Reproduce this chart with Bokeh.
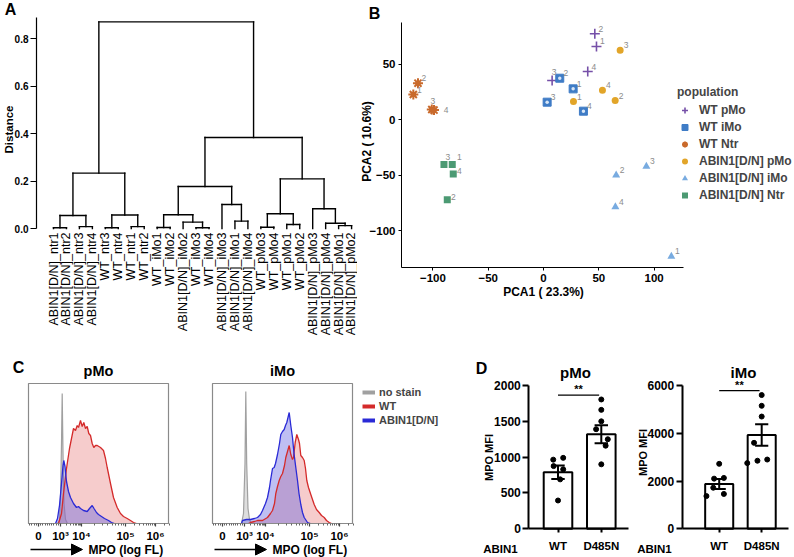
import math
from bokeh.plotting import figure
from bokeh.models import (Range1d, FixedTicker, Legend, LegendItem, Arrow, Grid,
                          NormalHead, LinearAxis, PrintfTickFormatter)
from bokeh.layouts import row, column
from bokeh.embed import file_html
from bokeh.resources import INLINE
from bokeh.core.properties import value

FONT = "Liberation Sans"

# ================= Panel A: hierarchical clustering =================
leaf_labels = ["ABIN1[D/N]_ntr1", "ABIN1[D/N]_ntr2", "ABIN1[D/N]_ntr3", "ABIN1[D/N]_ntr4",
               "WT_ntr3", "WT_ntr4", "WT_ntr1", "WT_ntr2",
               "WT_iMo1", "WT_iMo2", "ABIN1[D/N]_iMo2", "WT_iMo3", "WT_iMo4",
               "ABIN1[D/N]_iMo3", "ABIN1[D/N]_iMo1", "ABIN1[D/N]_iMo4",
               "WT_pMo3", "WT_pMo4", "WT_pMo1", "WT_pMo2",
               "ABIN1[D/N]_pMo3", "ABIN1[D/N]_pMo4", "ABIN1[D/N]_pMo1", "ABIN1[D/N]_pMo2"]
# merge k creates node id 24 + k
merge_left = [0, 2, 24, 4, 6, 27, 26, 8, 11, 10, 31, 14, 13, 34, 16, 18, 38, 22, 21, 20, 40, 37, 30]
merge_right = [1, 3, 25, 5, 7, 28, 29, 9, 12, 32, 33, 15, 35, 36, 17, 19, 39, 23, 41, 42, 43, 44, 45]
merge_height = [0.003, 0.008, 0.055, 0.003, 0.008, 0.057, 0.233, 0.004, 0.003, 0.027, 0.058,
                0.031, 0.101, 0.177, 0.005, 0.017, 0.062, 0.012, 0.022, 0.083, 0.209, 0.383, 0.870]
dist_ticks = [0.0, 0.2, 0.4, 0.6, 0.8]

# ================= Panel B: PCA =================
pca_groups = ["WT pMo", "WT iMo", "WT Ntr", "ABIN1[D/N] pMo", "ABIN1[D/N] iMo", "ABIN1[D/N] Ntr"]
pca_rep = [[2, 1, 4, 3], [2, 1, 3, 4], [2, 1, 3, 4], [3, 4, 2, 1], [3, 2, 4, 1], [3, 1, 4, 2]]
pca_pc1 = [[46.4, 47.9, 40.0, 7.8],
           [14.7, 26.8, 3.3, 36.1],
           [-113.5, -117.7, -101.0, -99.0],
           [69.3, 53.3, 64.8, 27.1],
           [93.0, 65.7, 65.0, 115.6],
           [-90.0, -82.5, -81.6, -87.0]]
pca_pc2 = [[77.2, 65.8, 43.2, 35.1],
           [37.2, 27.6, 15.6, 7.5],
           [32.7, 22.5, 9.0, 8.5],
           [62.4, 26.4, 17.1, 16.2],
           [-42.3, -50.2, -78.7, -123.4],
           [-40.5, -40.5, -49.2, -72.4]]
pca_ticks_x = [-100, -50, 0, 50, 100]
pca_ticks_y = [-100, -50, 0, 50]
pca_xlim = (-128.4, 126.6)
pca_ylim = (-133.3, 87.4)

# ================= Panel C: MPO histograms (display channel, normalised count) =================
hist_xlim = (0, 140)
hist_ylim = (0, 140)
hist_tick_pos = [10, 32, 53, 97, 127]
hist_tick_labels = ["0", "10³", "10⁴", "10⁵", "10⁶"]
pmo_ns_x = [29, 31, 32, 33, 33.7, 34.5, 35.5, 37, 39]
pmo_ns_y = [0, 3, 25, 80, 130, 70, 20, 4, 0]
pmo_wt_x = [30, 33, 35, 38, 41, 44, 45, 47, 48.7, 50, 52, 53.7, 55.3, 57, 58.7, 60.3, 62, 63.7,
            65.3, 67, 68.7, 72, 75, 77, 78.7, 82, 85, 88.7, 92, 95, 98.7, 102, 105, 108]
pmo_wt_y = [0, 10, 30, 55, 75, 90, 95, 93, 98, 96, 103, 97, 101, 95, 97, 90, 88, 80,
            76, 78, 78, 76, 73, 65, 56, 40, 26, 16, 10, 7, 5, 3, 1, 0]
pmo_ko_x = [27, 29, 31, 33, 34.5, 35.3, 36.5, 38, 40, 42, 45, 48, 50, 52, 55, 58.7, 61, 63.7,
            65.5, 68, 70, 73, 76, 80, 83, 86]
pmo_ko_y = [0, 5, 18, 40, 58, 63, 57, 42, 32, 26, 20, 16, 17, 15, 13, 12, 15, 18,
            15, 11, 9, 7, 5, 3, 1, 0]
imo_ns_x = [29, 31, 32.5, 33.3, 34.2, 35.5, 37, 38.5]
imo_ns_y = [0, 10, 60, 132, 60, 15, 4, 0]
imo_wt_x = [36, 38, 42, 45, 50, 55, 58, 60, 62, 63.3, 65, 66.7, 68.3, 70, 72, 73.3, 75, 76.7,
            78.3, 80, 81, 82.7, 84.3, 86, 87, 88.3, 90, 91.7, 93, 94.3, 96, 98.3, 100, 101.7,
            104, 106.7, 109, 111.7, 114, 116.7, 119]
imo_wt_y = [0, 1, 2, 3, 3, 6, 10, 13, 20, 30, 37, 43, 47, 50, 58, 66, 72, 78,
            69, 64, 66, 81, 89, 84, 80, 68, 66, 63, 55, 43, 36, 29, 24, 19,
            14, 11, 8, 6, 3, 1, 0]
imo_ko_x = [29, 30, 34, 38, 42, 45, 48, 50, 53, 55, 57, 58, 60, 61.7, 63, 65, 67, 68.3, 70,
            71.7, 73, 74.3, 75.5, 76.7, 78.3, 80, 81.5, 83.3, 85, 86.5, 88.3, 90, 91.7, 95, 98]
imo_ko_y = [0, 3, 4, 4, 5, 6, 9, 13, 20, 26, 36, 43, 55, 56, 60, 69, 80, 89, 92,
            94, 98, 101, 106, 111, 98, 86, 70, 56, 43, 30, 19, 11, 6, 1, 0]
hist_legend = ["no stain", "WT", "ABIN1[D/N]"]

# ================= Panel D: MPO MFI =================
genotypes = ["WT", "D485N"]
pmo_mean = [790, 1320]
pmo_sem = [95, 125]
pmo_pts_wt = [395, 690, 830, 875, 965, 990]
pmo_pts_ko = [900, 1160, 1250, 1390, 1500, 1660, 1805]
imo_mean = [1880, 3930]
imo_sem = [210, 450]
imo_pts_wt = [1370, 1460, 1720, 2100, 2130, 2720]
imo_pts_ko = [2750, 2850, 2900, 3600, 4700, 5150, 5600]
pmo_ticks = [0, 500, 1000, 1500, 2000]
imo_ticks = [0, 2000, 4000, 6000]
pmo_sig_y = 1866
imo_sig_y = 5787


# ---- geometry: each figure's frame fills its canvas; a linear map places the data ----
class Geo:
    def __init__(self, ox, oy, w, h, xpx0, xval0, xscale, ypx0, yval0, yscale):
        self.ox, self.oy, self.w, self.h = ox, oy, w, h
        self.xpx0, self.xval0, self.xs = xpx0, xval0, xscale
        self.ypx0, self.yval0, self.ys = ypx0, yval0, yscale
        self.xr = (self.x(ox), self.x(ox + w))
        self.yr = (self.y(oy + h), self.y(oy))

    def x(self, px):
        return self.xval0 + (px - self.xpx0) / self.xs

    def y(self, py):
        return self.yval0 + (self.ypx0 - py) / self.ys


def make_fig(g):
    p = figure(width=g.w, height=g.h, x_range=Range1d(*g.xr), y_range=Range1d(*g.yr),
               output_backend="svg", toolbar_location=None,
               x_axis_location=None, y_axis_location=None,
               min_border=0)
    p.center = [c for c in p.center if not isinstance(c, Grid)]
    p.outline_line_color = None
    p.background_fill_color = "white"
    p.border_fill_color = "white"
    return p


def txt(p, g, px, py, text, size, bold=True, angle=0.0, align="center", baseline="middle",
        color="black"):
    p.text(x=[g.x(px)], y=[g.y(py)], text=[text], angle=angle, text_align=align,
           text_baseline=baseline, text_font=value(FONT), text_font_size=f"{size}px",
           text_font_style="bold" if bold else "normal", text_color=color)


def style_axis(ax, size, lw=1.0, tick_out=4, standoff=2, color="black", bold=True):
    ax.axis_line_color = color
    ax.axis_line_width = lw
    ax.major_tick_line_color = color
    ax.major_tick_line_width = lw
    ax.major_tick_out = tick_out
    ax.major_tick_in = 0
    ax.minor_tick_line_color = None
    ax.major_label_standoff = standoff
    ax.major_label_text_font = FONT
    ax.major_label_text_font_size = f"{size}px"
    ax.major_label_text_font_style = "bold" if bold else "normal"
    ax.major_label_text_color = "black"


# ================= A =================
gA = Geo(0, 0, 357, 340, 53, 0, 12.96, 228, 0, 237.5)
pA = make_fig(gA)
n_leaf = len(leaf_labels)
node_x = {i: float(i) for i in range(n_leaf)}
node_h = {i: 0.0 for i in range(n_leaf)}
sx0, sy0, sx1, sy1 = [], [], [], []
for k, (l, r, h) in enumerate(zip(merge_left, merge_right, merge_height)):
    xl, xr = node_x[l], node_x[r]
    sx0 += [xl, xr, xl]
    sy0 += [node_h[l], node_h[r], h]
    sx1 += [xl, xr, xr]
    sy1 += [h, h, h]
    node_x[n_leaf + k] = (xl + xr) / 2
    node_h[n_leaf + k] = h
pA.segment(x0=sx0, y0=sy0, x1=sx1, y1=sy1, line_color="black", line_width=1.4, line_cap="square")

axA_y = LinearAxis(ticker=FixedTicker(ticks=dist_ticks), formatter=PrintfTickFormatter(format="%.1f"),
                   fixed_location=gA.x(36), bounds=(0, gA.y(17)))
style_axis(axA_y, 10, lw=1.2, tick_out=6, standoff=2)
pA.add_layout(axA_y, "left")
leaf_idx = list(range(n_leaf))
axA_x = LinearAxis(ticker=FixedTicker(ticks=leaf_idx),
                   major_label_overrides={i: s for i, s in zip(leaf_idx, leaf_labels)},
                   major_label_orientation=math.pi / 2, fixed_location=gA.y(229))
style_axis(axA_x, 12.5, tick_out=0, standoff=3, bold=False)
axA_x.axis_line_color = None
axA_x.major_tick_line_color = None
pA.add_layout(axA_x, "below")
txt(pA, gA, 8, 129, "Distance", 11.5, angle=math.pi / 2)
txt(pA, gA, 10, 9, "A", 16)

# ================= B =================
gB = Geo(357, 0, 437, 340, 543, 0, 1.106, 119, 0, 1.11)
pB = make_fig(gB)
colors = ["#7650a8", "#3f7cc6", "#c96a2c", "#e2a529", "#78abe0", "#4c9a73"]
legend_r = []
for gi in range(len(pca_groups)):
    xs, ys, c = pca_pc1[gi], pca_pc2[gi], colors[gi]
    if gi == 0:
        r0 = pB.scatter(xs, ys, marker="cross", size=10, line_color=c, line_width=1.6)
    elif gi == 1:
        r0 = pB.scatter(xs, ys, marker="square", size=8, fill_color=c, line_color=c)
        pB.scatter(xs, ys, marker="circle", size=3.5, fill_color="#d8e6f6", line_color=None)
    elif gi == 2:
        r0 = pB.scatter(xs, ys, marker="asterisk", size=10, line_color=c, line_width=2)
        pB.scatter(xs, ys, marker="circle", size=5, fill_color=c, line_color=None)
    elif gi == 3:
        r0 = pB.scatter(xs, ys, marker="circle", size=7, fill_color=c, line_color=None)
    elif gi == 4:
        r0 = pB.scatter(xs, ys, marker="triangle", size=8, fill_color=c, line_color=None)
    else:
        r0 = pB.scatter(xs, ys, marker="square", size=7, fill_color=c, line_color=None)
    legend_r.append([r0])

# replicate labels (offsets in pixels, placed like ggrepel)
lab_off = {(2, 3): (1, 9), (2, 4): (12, 0), (0, 3): (2, 9), (5, 3): (4, 7), (5, 1): (7, 7),
           (5, 4): (6, 3), (5, 2): (6, 3)}
lx, ly, lt = [], [], []
for gi in range(len(pca_groups)):
    for xv, yv, rp in zip(pca_pc1[gi], pca_pc2[gi], pca_rep[gi]):
        dx, dy = lab_off.get((gi, rp), (6, 5))
        lx.append(xv + dx / gB.xs)
        ly.append(yv + dy / gB.ys)
        lt.append(str(rp))
pB.text(x=lx, y=ly, text=lt, text_font=value(FONT), text_font_size="8.5px", text_color="#8c8c8c",
        text_align="center", text_baseline="middle")

axB_x = LinearAxis(ticker=FixedTicker(ticks=pca_ticks_x),
                   major_label_overrides={v: str(v).replace("-", "\u2212") for v in pca_ticks_x},
                   fixed_location=pca_ylim[0], bounds=pca_xlim)
style_axis(axB_x, 11.5, lw=1.0, tick_out=3, standoff=4)
pB.add_layout(axB_x, "below")
axB_y = LinearAxis(ticker=FixedTicker(ticks=pca_ticks_y),
                   major_label_overrides={v: str(v).replace("-", "\u2212") for v in pca_ticks_y},
                   fixed_location=pca_xlim[0], bounds=pca_ylim)
style_axis(axB_y, 11.5, lw=1.0, tick_out=3, standoff=3)
pB.add_layout(axB_y, "left")
txt(pB, gB, 543, 291, "PCA1 ( 23.3%)", 12)
txt(pB, gB, 366, 141, "PCA2 ( 10.6%)", 12, angle=math.pi / 2)
txt(pB, gB, 374, 13, "B", 16)

legB = Legend(items=[LegendItem(label=n, renderers=r) for n, r in zip(pca_groups, legend_r)],
              title="population", title_text_font=FONT, title_text_font_size="12px",
              title_text_font_style="bold", title_standoff=3,
              location=(320, 137), padding=0, margin=0, spacing=1,
              glyph_width=15, glyph_height=16, label_height=16, label_standoff=7,
              label_text_font=FONT, label_text_font_size="12px", label_text_font_style="bold",
              border_line_color=None, background_fill_alpha=0)
pB.add_layout(legB, "center")

# ================= C =================
minor = []
span0 = hist_tick_pos[1] - hist_tick_pos[0]
for m in list(range(-4, 0)) + list(range(1, 10)):
    minor.append(hist_tick_pos[0] + m / 10 * span0)
for k in range(1, len(hist_tick_pos) - 1):
    a, b = hist_tick_pos[k], hist_tick_pos[k + 1]
    for m in range(2, 10):
        minor.append(a + math.log10(m) * (b - a))
for m in range(2, 4):
    minor.append(hist_tick_pos[-1] + math.log10(m) * (hist_tick_pos[-1] - hist_tick_pos[-2]))

RED_L, RED_F = "#d42a2a", "#e88080"
BLU_L, BLU_F = "#2a2ad6", "#6060e0"
GRY_L, GRY_F = "#a0a0a0", "#d0d0d0"


def hist_panel(g, ns, wt, ko, title, title_x):
    p = make_fig(g)
    p.quad(left=[hist_xlim[0]], right=[hist_xlim[1]], bottom=[hist_ylim[0]], top=[hist_ylim[1]],
           fill_color=None, line_color="#8a8a8a", line_width=1.2)
    p.varea(x=ns[0], y1=0, y2=ns[1], fill_color=GRY_F, fill_alpha=0.7)
    p.line(ns[0], ns[1], line_color=GRY_L, line_width=1.2)
    p.varea(x=wt[0], y1=0, y2=wt[1], fill_color=RED_F, fill_alpha=0.4)
    p.varea(x=ko[0], y1=0, y2=ko[1], fill_color=BLU_F, fill_alpha=0.4)
    p.line(wt[0], wt[1], line_color=RED_L, line_width=1.3)
    p.line(ko[0], ko[1], line_color=BLU_L, line_width=1.3)
    ax = LinearAxis(ticker=FixedTicker(ticks=hist_tick_pos, minor_ticks=minor),
                    major_label_overrides={v: s for v, s in zip(hist_tick_pos, hist_tick_labels)},
                    fixed_location=hist_ylim[0], bounds=hist_xlim)
    style_axis(ax, 11.5, lw=1.2, tick_out=3, standoff=3, color="#8a8a8a")
    ax.major_tick_line_color = "#444444"
    ax.minor_tick_line_color = "#666666"
    ax.minor_tick_out = 2
    ax.minor_tick_in = 0
    p.add_layout(ax, "below")
    txt(p, g, title_x, 370, title, 14.5)
    x0 = g.xpx0
    p.add_layout(Arrow(end=NormalHead(size=11, fill_color="black", line_color="black"),
                       x_start=g.x(x0 + 2), y_start=g.y(549), x_end=g.x(x0 + 54), y_end=g.y(549),
                       line_color="black", line_width=1.5))
    txt(p, g, x0 + 60, 549, "MPO (log FL)", 12, align="left")
    return p


gC1 = Geo(0, 340, 195, 217, 28, 0, 1.0, 523, 0, 1.0)
gC2 = Geo(195, 340, 275, 217, 212, 0, 1.0, 523, 0, 1.0)
pC1 = hist_panel(gC1, (pmo_ns_x, pmo_ns_y), (pmo_wt_x, pmo_wt_y), (pmo_ko_x, pmo_ko_y), "pMo", 98)
pC2 = hist_panel(gC2, (imo_ns_x, imo_ns_y), (imo_wt_x, imo_wt_y), (imo_ko_x, imo_ko_y), "iMo", 282)
txt(pC1, gC1, 18, 367, "C", 16)
leg_r = [pC2.line([-50, -40], [-50, -50], line_color=c, line_width=4) for c in (GRY_L, RED_L, BLU_L)]
legC = Legend(items=[LegendItem(label=n, renderers=[r]) for n, r in zip(hist_legend, leg_r)],
              location=(167, 130), padding=0, margin=0, spacing=0,
              glyph_width=13, glyph_height=14, label_height=14, label_standoff=4,
              label_text_font=FONT, label_text_font_size="11px", label_text_font_style="bold",
              border_line_color=None, background_fill_alpha=0)
pC2.add_layout(legC, "center")

# ================= D =================
pmo_jit_wt = [0.0, 0.05, 0.12, -0.1, -0.11, 0.12]
pmo_jit_ko = [0.0, 0.1, 0.15, -0.12, 0.0, 0.0, 0.0]
imo_jit_wt = [-0.3, 0.11, -0.14, -0.12, 0.11, 0.0]
imo_jit_ko = [-0.34, -0.1, 0.13, -0.18, 0.0, 0.0, 0.0]


def bar_panel(g, mean, sem, pts_wt, pts_ko, jw, jk, ticks, sig_y, title, title_x, ylab_x,
              ylab_y, axis_px, right_px):
    p = make_fig(g)
    xs = list(range(len(genotypes)))
    x_left, x_right = g.x(axis_px), g.x(right_px)
    p.vbar(x=xs, top=mean, width=0.66, bottom=0, fill_color="white", line_color="black",
           line_width=2)
    cap = 0.155
    lo = [m - s for m, s in zip(mean, sem)]
    hi = [m + s for m, s in zip(mean, sem)]
    p.segment(x0=xs, y0=lo, x1=xs, y1=hi, line_color="black", line_width=2)
    for yy in (lo, hi):
        p.segment(x0=[x - cap for x in xs], y0=yy, x1=[x + cap for x in xs], y1=yy,
                  line_color="black", line_width=2)
    p.scatter([0 + j for j in jw], pts_wt, size=5, fill_color="black", line_color="black")
    p.scatter([1 + j for j in jk], pts_ko, size=5, fill_color="black", line_color="black")
    p.segment(x0=[0], y0=[sig_y], x1=[0.95], y1=[sig_y], line_color="black", line_width=1.3)
    p.text(x=[0.475], y=[sig_y], text=["**"], text_font=value(FONT), text_font_size="11px",
           text_font_style="bold", text_align="center", text_baseline="bottom")
    ay = LinearAxis(ticker=FixedTicker(ticks=ticks), fixed_location=x_left,
                    bounds=(ticks[0], ticks[-1]))
    style_axis(ay, 12, lw=2, tick_out=6, standoff=2)
    p.add_layout(ay, "left")
    ax = LinearAxis(ticker=FixedTicker(ticks=xs),
                    major_label_overrides={i: s for i, s in zip(xs, genotypes)},
                    fixed_location=0, bounds=(x_left, x_right))
    style_axis(ax, 11.5, lw=2, tick_out=4, standoff=7)
    p.add_layout(ax, "below")
    txt(p, g, title_x, 372, title, 15)
    txt(p, g, ylab_x, ylab_y, "MPO MFI", 11, angle=math.pi / 2)
    txt(p, g, ylab_x + 12, 548, "ABIN1", 11.5)
    return p


gD1 = Geo(470, 340, 164, 217, 557.5, 0, 43.3, 528.3, 0, 143.3 / 2000)
gD2 = Geo(634, 340, 160, 217, 718.7, 0, 42.5, 528.3, 0, 143.3 / 6000)
pD1 = bar_panel(gD1, pmo_mean, pmo_sem, pmo_pts_wt, pmo_pts_ko, pmo_jit_wt, pmo_jit_ko,
                pmo_ticks, pmo_sig_y, "pMo", 575, 488, 457, 528.3, 628.3)
pD2 = bar_panel(gD2, imo_mean, imo_sem, imo_pts_wt, imo_pts_ko, imo_jit_wt, imo_jit_ko,
                imo_ticks, imo_sig_y, "iMo", 743, 642, 452, 681.7, 788.3)
txt(pD1, gD1, 481, 368, "D", 16)

layout = column(row(pA, pB), row(pC1, pC2, pD1, pD2))
open("out.html", "w").write(file_html(layout, INLINE))
